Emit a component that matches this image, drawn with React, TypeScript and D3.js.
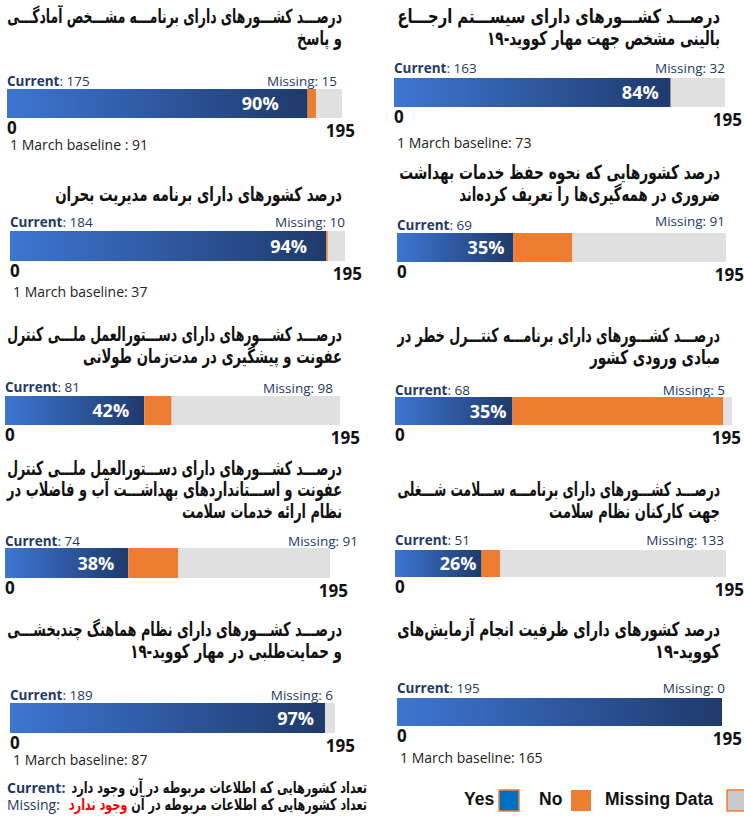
import React, { useLayoutEffect, useRef, useState } from "react";
import * as d3 from "d3";

const TOTAL = 195;

const titles: string[][] = [
  ["درصـــد کشـــورهای دارای برنامـــه مشـــخص آمادگـــی", "و پاسخ"],
  ["درصـــد کشـــورهای دارای سیســـتم ارجـــاع", "بالینی مشخص جهت مهار کووید-۱۹"],
  ["درصد کشورهای دارای برنامه مدیریت بحران"],
  ["درصد کشورهایی که نحوه حفظ خدمات بهداشت", "ضروری در همه‌گیری‌ها را تعریف کرده‌اند"],
  ["درصـــد کشـــورهای دارای دســـتورالعمل ملـــی کنترل", "عفونت و پیشگیری در مدت‌زمان طولانی"],
  ["درصـــد کشـــورهای دارای برنامـــه کنتـــرل خطر در", "مبادی ورودی کشور"],
  ["درصـــد کشـــورهای دارای دســـتورالعمل ملـــی کنترل", "عفونت و اســـتانداردهای بهداشـــت آب و فاضلاب در", "نظام ارائه خدمات سلامت"],
  ["درصـــد کشـــورهای دارای برنامـــه ســـلامت شـــغلی", "جهت کارکنان نظام سلامت"],
  ["درصـــد کشـــورهای دارای نظام هماهنگ چندبخشـــی", "و حمایت‌طلبی در مهار کووید-۱۹"],
  ["درصد کشورهای دارای ظرفیت انجام آزمایش‌های", "کووید-۱۹"],
];
const currentVals = [175, 163, 184, 69, 81, 68, 74, 51, 189, 195];
const missingVals = [15, 32, 10, 91, 98, 5, 91, 133, 6, 0];
const baselineTexts: (string | null)[] = [
  "1 March baseline : 91",
  "1 March baseline: 73",
  "1 March baseline: 37",
  null,
  null,
  null,
  null,
  null,
  "1 March baseline: 87",
  "1 March baseline: 165",
];
const axisTicks = [0, TOTAL];
const legendItems = ["Yes", "No", "Missing Data"];
const noteCurrent = "تعداد کشورهایی که اطلاعات مربوطه در آن وجود دارد";
const noteMissingA = "تعداد کشورهایی که اطلاعات مربوطه در آن ";
const noteMissingB = "وجود ندارد";

// layout (positions only)
type Lay = {
  tr: number; tl: number[]; ty: number[]; ly: number; my: number;
  x0: number; x1: number; top: number; h: number;
  mr: number; by: number; pg: number; tx: number;
};
const layout: Lay[] = [
  { tr: 342, tl: [7, 297], ty: [22, 44], ly: 86, my: 86, x0: 7, x1: 342, top: 89, h: 29, mr: 337, by: 150, pg: 29, tx: 13 },
  { tr: 720, tl: [397, 487], ty: [22, 44], ly: 73, my: 73, x0: 394, x1: 725, top: 78, h: 29, mr: 725, by: 148, pg: 12, tx: 17 },
  { tr: 342, tl: [55], ty: [200], ly: 227, my: 227, x0: 10, x1: 345, top: 231, h: 30, mr: 345, by: 297, pg: 19, tx: 17 },
  { tr: 720, tl: [399, 459], ty: [178, 200], ly: 230, my: 226, x0: 397, x1: 726, top: 233, h: 29, mr: 725, by: 0, pg: 9, tx: 18 },
  { tr: 342, tl: [7, 83], ty: [340, 362], ly: 392, my: 393, x0: 5, x1: 340, top: 396, h: 29, mr: 333, by: 0, pg: 15, tx: 20 },
  { tr: 720, tl: [397, 590], ty: [341, 363], ly: 395, my: 395, x0: 395, x1: 732, top: 397, h: 28, mr: 725, by: 0, pg: 6, tx: 9 },
  { tr: 342, tl: [7, 7, 182], ty: [474, 495, 517], ly: 546, my: 546, x0: 5, x1: 330, top: 548, h: 30, mr: 358, by: 0, pg: 14, tx: 18 },
  { tr: 720, tl: [397, 549], ty: [495, 517], ly: 545, my: 545, x0: 395, x1: 726, top: 550, h: 27, mr: 724, by: 0, pg: 5, tx: 18 },
  { tr: 342, tl: [7, 130], ty: [635, 657], ly: 700, my: 700, x0: 10, x1: 335, top: 703, h: 30, mr: 333, by: 765, pg: 11, tx: 20 },
  { tr: 720, tl: [397, 655], ty: [635, 657], ly: 693, my: 693, x0: 397, x1: 722, top: 698, h: 28, mr: 725, by: 763, pg: 10, tx: 20 },
];

const NAVY = "#1F3864";
const ORANGE = "#ED7D31";
const GREY = "#E0E0E0";
const AR_FONT = "'DejaVu Sans', sans-serif";
const LAT_FONT = "'Open Sans', sans-serif";

// Right-anchored text horizontally scaled to fit a measured width
function FitText({
  x, y, width, fontSize, children,
}: { x: number; y: number; width: number; fontSize: number; children: React.ReactNode }) {
  const ref = useRef<SVGTextElement>(null);
  const [s, setS] = useState(1);
  useLayoutEffect(() => {
    if (ref.current) {
      const w = ref.current.getComputedTextLength();
      if (w > 0) setS(width / w);
    }
  }, [width]);
  return (
    <text
      ref={ref}
      x={x}
      y={y}
      textAnchor="end"
      fontFamily={AR_FONT}
      fontWeight="bold"
      fontSize={fontSize}
      fill="#111"
      transform={`translate(${x},0) scale(${s},1) translate(${-x},0)`}
    >
      {children}
    </text>
  );
}

function Panel({ i }: { i: number }) {
  const L = layout[i];
  const x = d3.scaleLinear().domain([0, TOTAL]).range([L.x0, L.x1]);
  const yes = currentVals[i];
  const miss = missingVals[i];
  const no = TOTAL - yes - miss;
  const segs = [yes, no, miss];
  const cum = d3.cumsum(segs);
  const fills = [`url(#grad${i})`, ORANGE, GREY];
  const pct = Math.round((yes / TOTAL) * 100);
  return (
    <g>
      <defs>
        <linearGradient id={`grad${i}`} x1="0" x2="1" y1="0" y2="0">
          <stop offset="0%" stopColor="#3D76D2" />
          <stop offset="100%" stopColor="#1F3A6C" />
        </linearGradient>
      </defs>
      {titles[i].map((t, k) => (
        <FitText key={k} x={L.tr} y={L.ty[k] + 1} width={L.tr - L.tl[k]} fontSize={19.5}>
          {t}
        </FitText>
      ))}
      <text x={L.x0} y={L.ly} fontFamily={LAT_FONT} fontSize={13.5} fill={NAVY}>
        <tspan fontWeight="bold">Current</tspan>
        <tspan>{`: ${yes}`}</tspan>
      </text>
      <text x={L.mr} y={L.my} textAnchor="end" fontFamily={LAT_FONT} fontSize={13.5} fill={NAVY}>
        {`Missing: ${miss}`}
      </text>
      {segs.map((v, k) =>
        v > 0 ? (
          <rect
            key={k}
            x={x(cum[k] - v)}
            y={L.top}
            width={x(cum[k]) - x(cum[k] - v)}
            height={L.h}
            fill={fills[k]}
          />
        ) : null
      )}
      {pct < 100 && (
        <text
          x={x(yes) - L.pg}
          y={L.top + L.h / 2 + 6.5}
          textAnchor="end"
          fontFamily={LAT_FONT}
          fontWeight="bold"
          fontSize={18}
          fill="#fff"
        >
          {`${pct}%`}
        </text>
      )}
      {axisTicks.map((t, k) => (
        <text
          key={k}
          x={k === 0 ? x(t) : x(t) + L.tx}
          y={L.top + L.h + (k === 0 ? 16 : 19)}
          textAnchor={k === 0 ? "start" : "end"}
          fontFamily={LAT_FONT}
          fontWeight="bold"
          fontSize={17}
          fill="#111"
        >
          {t}
        </text>
      ))}
      {baselineTexts[i] && (
        <text x={L.x0 + 3} y={L.by} fontFamily={LAT_FONT} fontSize={14} fill="#222">
          {baselineTexts[i]}
        </text>
      )}
    </g>
  );
}

export default function App() {
  const legendX = [464, 539, 605];
  const boxX = [499, 571, 727];
  const boxFill = ["#0070C0", ORANGE, "#C9C9C9"];
  return (
    <svg
      width={744}
      height={821}
      style={{ position: "absolute", left: 0, top: 0, background: "#fff" }}
    >
      {titles.map((_, i) => (
        <Panel key={i} i={i} />
      ))}
      {/* footnotes */}
      <text x={7} y={793} fontFamily={LAT_FONT} fontWeight="bold" fontSize={14} fill={NAVY}>
        Current:
      </text>
      <FitText x={367} y={793} width={296} fontSize={16}>
        {noteCurrent}
      </FitText>
      <text x={7} y={810} fontFamily={LAT_FONT} fontSize={14} fill={NAVY}>
        Missing:
      </text>
      <FitText x={367} y={810} width={298} fontSize={16}>
        <tspan>{noteMissingA}</tspan>
        <tspan fill="#FF0000">{noteMissingB}</tspan>
      </FitText>
      {/* legend */}
      {legendItems.map((t, k) => (
        <g key={t}>
          <text
            x={legendX[k]}
            y={805}
            fontFamily="'Liberation Sans', Arial, sans-serif"
            fontWeight="bold"
            fontSize={17.5}
            fill="#111"
          >
            {t}
          </text>
          <rect
            x={boxX[k]}
            y={790}
            width={20}
            height={21}
            fill={boxFill[k]}
            stroke={k === 1 ? "none" : ORANGE}
            strokeWidth={1.5}
          />
        </g>
      ))}
    </svg>
  );
}
